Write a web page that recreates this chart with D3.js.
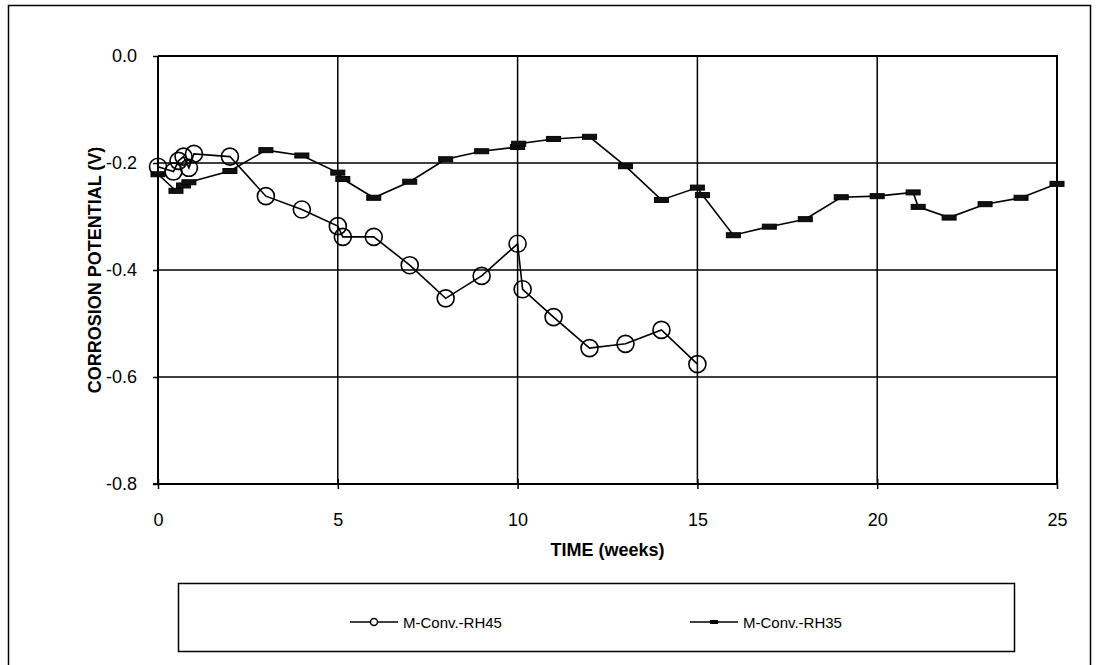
<!DOCTYPE html>
<html><head><meta charset="utf-8">
<script src="https://cdn.jsdelivr.net/npm/d3@7"></script>
<style>body{margin:0;background:#fff}svg{display:block}text{font-family:"Liberation Sans",Arial,sans-serif}</style>
</head><body><svg id="c" width="1096" height="665"></svg>
<script>
const seriesNames = ["M-Conv.-RH45", "M-Conv.-RH35"];
const rh45Weeks = [0, 0.43, 0.57, 0.71, 0.86, 1, 2, 3, 4, 5, 5.14, 6, 7, 8, 9, 10, 10.14, 11, 12, 13, 14, 15];
const rh45Volts = [-0.207, -0.216, -0.196, -0.188, -0.209, -0.183, -0.188, -0.262, -0.287, -0.318, -0.338, -0.338, -0.391, -0.453, -0.411, -0.351, -0.436, -0.488, -0.546, -0.538, -0.512, -0.576];
const rh35Weeks = [0, 0.5, 0.71, 0.86, 2, 3, 4, 5, 5.14, 6, 7, 8, 9, 10, 10.03, 11, 12, 13, 14, 15, 15.14, 16, 17, 18, 19, 20, 21, 21.14, 22, 23, 24, 25];
const rh35Volts = [-0.221, -0.252, -0.242, -0.236, -0.215, -0.176, -0.186, -0.218, -0.230, -0.265, -0.235, -0.193, -0.178, -0.170, -0.164, -0.155, -0.151, -0.206, -0.269, -0.246, -0.260, -0.335, -0.319, -0.305, -0.264, -0.262, -0.255, -0.282, -0.302, -0.277, -0.265, -0.239];
const xTicks = [0, 5, 10, 15, 20, 25];
const yTicks = [0, -0.2, -0.4, -0.6, -0.8];
const xTitle = "TIME (weeks)";
const yTitle = "CORROSION POTENTIAL  (V)";

const svg = d3.select("#c");
const L = 158, R = 1057, T = 56, B = 484;
const x = d3.scaleLinear().domain([0, 25]).range([L, R]);
const y = d3.scaleLinear().domain([-0.8, 0]).range([B, T]);

svg.append("rect").attr("x", 8.5).attr("y", 5.5).attr("width", 1082).attr("height", 670)
  .attr("fill", "none").attr("stroke", "#000").attr("stroke-width", 1.5);

svg.append("g").selectAll("line").data(yTicks.slice(1, 4)).join("line")
  .attr("x1", L).attr("x2", R).attr("y1", d => y(d)).attr("y2", d => y(d))
  .attr("stroke", "#000").attr("stroke-width", 1.5);
svg.append("g").selectAll("line").data(xTicks.slice(1, 5)).join("line")
  .attr("y1", T).attr("y2", B).attr("x1", d => x(d)).attr("x2", d => x(d))
  .attr("stroke", "#000").attr("stroke-width", 1.5);
svg.append("path").attr("d", `M${L},${T}H${R}V${B}`).attr("fill", "none").attr("stroke", "#000").attr("stroke-width", 2);

const xAxis = svg.append("g").attr("transform", `translate(0,${B})`)
  .call(d3.axisBottom(x).tickValues(xTicks).tickSize(5).tickFormat(d => String(d)));
xAxis.select(".domain").attr("stroke-width", 2.2).attr("d", `M${L - 5},0H${R}`);
xAxis.selectAll(".tick line").attr("y1", -5).attr("y2", 5).attr("stroke-width", 1.5);
xAxis.selectAll(".tick text").attr("y", 29).attr("font-size", 18).attr("fill", "#000").attr("font-family", "Liberation Sans, Arial");

const yAxis = svg.append("g").attr("transform", `translate(${L},0)`)
  .call(d3.axisLeft(y).tickValues(yTicks).tickSize(5).tickFormat(d => d.toFixed(1)));
yAxis.select(".domain").attr("stroke-width", 2).attr("d", `M0,${T}V${B}`);
yAxis.selectAll(".tick line").attr("stroke-width", 1.5);
yAxis.selectAll(".tick text").attr("x", -21).attr("font-size", 18).attr("fill", "#000").attr("font-family", "Liberation Sans, Arial");

svg.append("text").attr("x", (L + R) / 2).attr("y", 556).attr("text-anchor", "middle")
  .attr("font-weight", "bold").attr("font-size", 18).text(xTitle);
svg.append("text").attr("transform", `translate(101,${(T + B) / 2}) rotate(-90)`).attr("text-anchor", "middle")
  .attr("font-weight", "bold").attr("font-size", 18).text(yTitle);

const line = d3.line().x(d => x(d[0])).y(d => y(d[1]));
const d45 = rh45Weeks.map((w, i) => [w, rh45Volts[i]]);
const d35 = rh35Weeks.map((w, i) => [w, rh35Volts[i]]);

svg.append("path").datum(d35).attr("d", line).attr("fill", "none").attr("stroke", "#000").attr("stroke-width", 1.6);
svg.append("g").selectAll("rect").data(d35).join("rect")
  .attr("x", d => x(d[0]) - 7).attr("y", d => y(d[1]) - 2.5).attr("width", 14).attr("height", 5)
  .attr("fill", "#111").attr("stroke", "#000").attr("stroke-width", 1);

svg.append("path").datum(d45).attr("d", line).attr("fill", "none").attr("stroke", "#000").attr("stroke-width", 1.6);
svg.append("g").selectAll("circle").data(d45).join("circle")
  .attr("cx", d => x(d[0])).attr("cy", d => y(d[1])).attr("r", 8.5)
  .attr("fill", "none").attr("stroke", "#000").attr("stroke-width", 1.6);

const lg = svg.append("g");
lg.append("rect").attr("x", 178.5).attr("y", 583.5).attr("width", 836).attr("height", 68)
  .attr("fill", "#fff").attr("stroke", "#000").attr("stroke-width", 1.5);
const items = [{name: seriesNames[0], x0: 350, type: "circle"}, {name: seriesNames[1], x0: 690, type: "rect"}];
items.forEach(it => {
  lg.append("line").attr("x1", it.x0).attr("x2", it.x0 + 48).attr("y1", 622).attr("y2", 622).attr("stroke", "#000").attr("stroke-width", 1.6);
  if (it.type === "circle") lg.append("circle").attr("cx", it.x0 + 24).attr("cy", 622).attr("r", 3.5).attr("fill", "#fff").attr("stroke", "#000").attr("stroke-width", 1.5);
  else lg.append("rect").attr("x", it.x0 + 20).attr("y", 620).attr("width", 8).attr("height", 4).attr("fill", "#000");
  lg.append("text").attr("x", it.x0 + 53).attr("y", 628).attr("font-size", 15).text(it.name);
});
</script></body></html>
